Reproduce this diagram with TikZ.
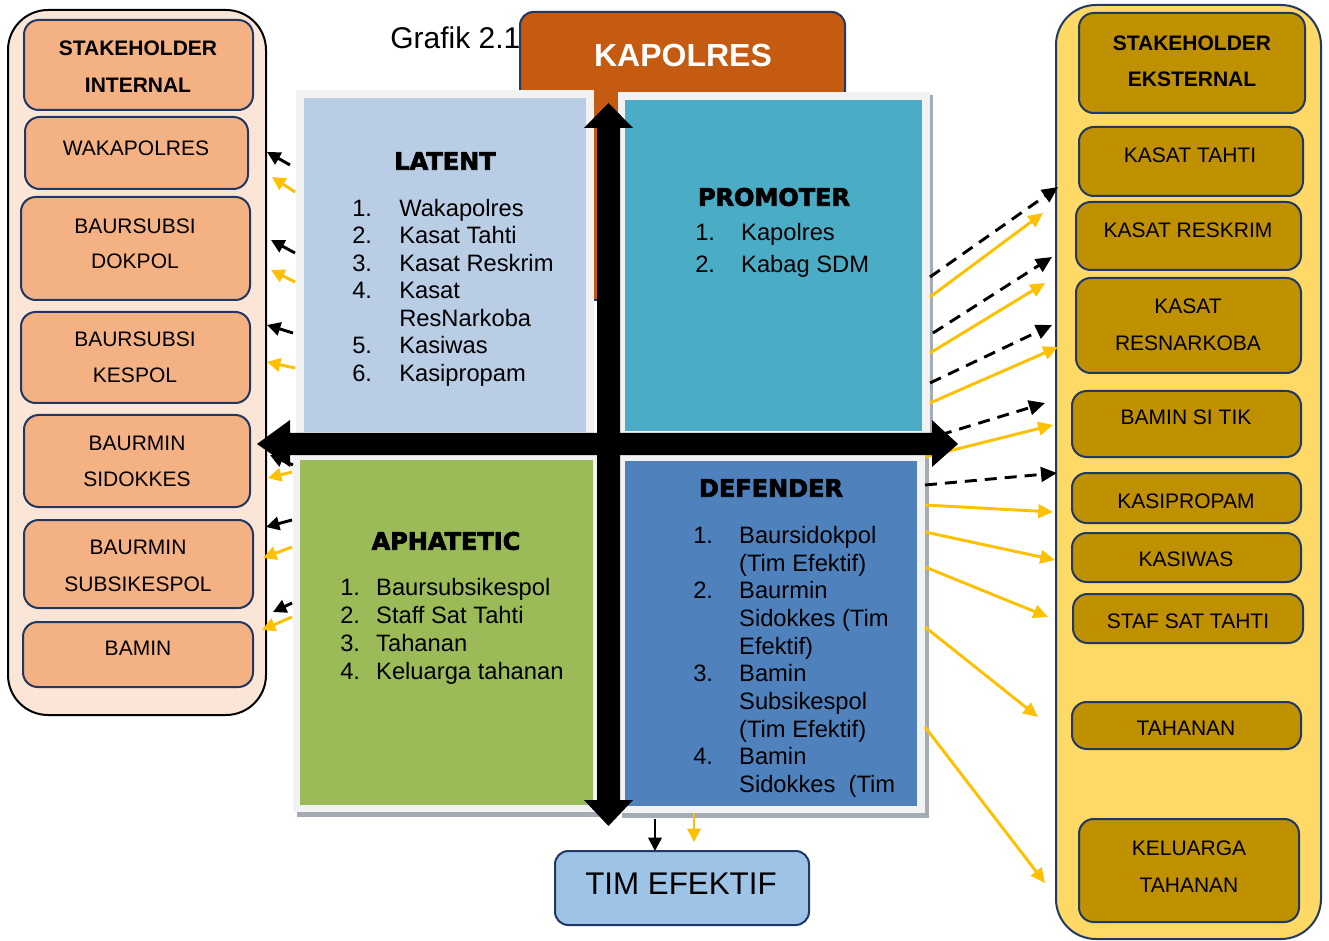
\documentclass[tikz,border=0pt]{standalone}
\usepackage{fontspec}
\setmainfont{Liberation Sans}
\newfontfamily\heavy{DejaVu Sans}[BoldFeatures={FakeBold=3}]
\usetikzlibrary{arrows.meta,fit}
\definecolor{navy}{HTML}{1F3864}
\definecolor{lpanel}{HTML}{FBE5D6}
\definecolor{lbfill}{HTML}{F4B183}
\definecolor{rpanel}{HTML}{FFD966}
\definecolor{rbfill}{HTML}{BF9000}
\definecolor{kapc}{HTML}{C55A11}
\definecolor{latc}{HTML}{B9CDE5}
\definecolor{proc}{HTML}{4BACC6}
\definecolor{aphc}{HTML}{9BBB59}
\definecolor{defc}{HTML}{4F81BD}
\definecolor{timc}{HTML}{9DC3E6}
\definecolor{ylw}{HTML}{FFC000}
\definecolor{frmc}{HTML}{F2F2F2}
\definecolor{shdc}{HTML}{A3ABB5}
\begin{document}
\begin{tikzpicture}[x=0.75pt,y=-0.75pt,
  bx/.style={inner sep=0pt, outer sep=0pt, draw=navy, line width=1.5pt, rounded corners=11pt},
  lbox/.style={bx, fill=lbfill},
  rbox/.style={bx, fill=rbfill},
  panel/.style={inner sep=0pt, outer sep=0pt, line width=1.5pt, rounded corners=30pt},
  lbl/.style={font=\fontsize{15.75}{18}\selectfont, inner sep=0pt},
  lblb/.style={font=\fontsize{15.75}{18}\selectfont\bfseries, inner sep=0pt},
  ttl/.style={font=\fontsize{18}{20}\selectfont\heavy\bfseries, inner sep=0pt},
  lst/.style={inner sep=0pt, anchor=base west},
  frm/.style={inner sep=0pt, outer sep=0pt, fill=frmc},
  quad/.style={inner sep=0pt, outer sep=0pt, fill=#1},
  ya/.style={draw=ylw, line width=2.2pt, -{Triangle[length=11pt,width=10pt]}},
  bda/.style={draw=black, line width=2.2pt, dash pattern=on 9pt off 6pt, -{Triangle[length=12pt,width=11pt]}},
  yl/.style={draw=ylw, line width=2.2pt, -{Triangle[length=10pt,width=10pt]}},
  bl/.style={draw=black, line width=2.2pt, -{Triangle[length=10pt,width=10pt]}},
]
\useasboundingbox (0,0) rectangle (1329,941);

% title
\node[anchor=west, inner sep=0pt, font=\fontsize{22.5}{24}\selectfont] (grafik) at (390,38) {Grafik 2.1};

% KAPOLRES
\node[bx, fill=kapc, rounded corners=10pt, fit={(520,12) (845,300)}] (kapbox) {};
\node[font=\fontsize{24}{26}\selectfont\bfseries, text=white, inner sep=0pt] (kap) at (683,55) {KAPOLRES};

% left panel
\node[panel, draw=black, fill=lpanel, fit={(8,10) (266,715)}] (lp) {};
\node[lbox, fit={(24,20) (253,110)}] (si) {};
\node[lblb] (si1) at (138,48) {STAKEHOLDER};
\node[lblb] (si2) at (138,85) {INTERNAL};
\node[lbox, fit={(25,117) (248,189)}] (waka) {};
\node[lbl] (waka1) at (136,148) {WAKAPOLRES};
\node[lbox, fit={(21,197) (250,300)}] (dok) {};
\node[lbl] (dok1) at (135,226) {BAURSUBSI};
\node[lbl] (dok2) at (135,261) {DOKPOL};
\node[lbox, fit={(21,312) (250,403)}] (kes) {};
\node[lbl] (kes1) at (135,339) {BAURSUBSI};
\node[lbl] (kes2) at (135,375) {KESPOL};
\node[lbox, fit={(24,415) (250,507)}] (sid) {};
\node[lbl] (sid1) at (137,443) {BAURMIN};
\node[lbl] (sid2) at (137,479) {SIDOKKES};
\node[lbox, fit={(24,520) (253,608)}] (sub) {};
\node[lbl] (sub1) at (138,547) {BAURMIN};
\node[lbl] (sub2) at (138,584) {SUBSIKESPOL};
\node[lbox, fit={(23,622) (253,687)}] (bam) {};
\node[lbl] (bam1) at (138,648) {BAMIN};

% right panel
\node[panel, draw=navy, fill=rpanel, fit={(1056,5) (1321,939)}] (rp) {};
\node[rbox, fit={(1079,13) (1305,113)}] (se) {};
\node[lblb] (se1) at (1192,43) {STAKEHOLDER};
\node[lblb] (se2) at (1192,79) {EKSTERNAL};
\node[rbox, fit={(1079,127) (1303,196)}] (kt) {};
\node[lbl] (kt1) at (1190,155) {KASAT TAHTI};
\node[rbox, fit={(1076,202) (1301,270)}] (kr) {};
\node[lbl] (kr1) at (1188,230) {KASAT RESKRIM};
\node[rbox, fit={(1076,278) (1301,373)}] (kn) {};
\node[lbl] (kn1) at (1188,306) {KASAT};
\node[lbl] (kn2) at (1188,343) {RESNARKOBA};
\node[rbox, fit={(1072,391) (1301,457)}] (bst) {};
\node[lbl] (bst1) at (1186,417) {BAMIN SI TIK};
\node[rbox, fit={(1072,473) (1301,523)}] (kp) {};
\node[lbl] (kp1) at (1186,501) {KASIPROPAM};
\node[rbox, fit={(1072,533) (1301,582)}] (kw) {};
\node[lbl] (kw1) at (1186,559) {KASIWAS};
\node[rbox, fit={(1073,594) (1303,643)}] (sst) {};
\node[lbl] (sst1) at (1188,621) {STAF SAT TAHTI};
\node[rbox, fit={(1072,702) (1301,749)}] (th) {};
\node[lbl] (th1) at (1186,728) {TAHANAN};
\node[rbox, fit={(1079,819) (1299,922)}] (kl) {};
\node[lbl] (kl1) at (1189,848) {KELUARGA};
\node[lbl] (kl2) at (1189,885) {TAHANAN};

% TIM EFEKTIF
\node[bx, fill=timc, rounded corners=10pt, fit={(555,851) (809,925)}] (tim) {};
\node[inner sep=0pt, font=\fontsize{23.5}{26}\selectfont] (tim1) at (681,884) {TIM EFEKTIF};

% quadrants
\node[frm, fit={(296,90) (594,440)}] (latF) {};
\node[quad=latc, fit={(304,98) (586,432)}] (lat) {};
\fill[shdc] (621,95) rectangle (933,442);
\node[frm, fit={(618,92) (930,439)}] (proF) {};
\node[quad=proc, fit={(625,100) (922,431)}] (pro) {};
\fill[shdc] (297,457) rectangle (604,817);
\node[frm, fit={(293,453) (600,812)}] (aphF) {};
\node[quad=aphc, fit={(300,460) (593,805)}] (aph) {};
\fill[shdc] (622,458) rectangle (929,818);
\node[frm, fit={(618,454) (925,813)}] (defF) {};
\node[quad=defc, fit={(625,461) (917,806)}] (def) {};

\node[ttl] (latT) at (445,161) {LATENT};
\node[ttl] (proT) at (774,197) {PROMOTER};
\node[ttl] (aphT) at (446,541) {APHATETIC};
\node[ttl] (defT) at (771,488) {DEFENDER};

\node[lst, font=\fontsize{17.8}{20.6}\selectfont] (latL) at (352,216.5) {\begin{tabular}[t]{@{}l@{\hspace{20.4pt}}l@{}}
1. & Wakapolres\\ 2. & Kasat Tahti\\ 3. & Kasat Reskrim\\ 4. & Kasat\\ & ResNarkoba\\ 5. & Kasiwas\\ 6. & Kasipropam\end{tabular}};
\node[lst, font=\fontsize{17.8}{24}\selectfont] (proL) at (695,240.5) {\begin{tabular}[t]{@{}l@{\hspace{19.6pt}}l@{}}
1. & Kapolres\\ 2. & Kabag SDM\end{tabular}};
\node[lst, font=\fontsize{17.8}{21}\selectfont] (aphL) at (340,595.5) {\begin{tabular}[t]{@{}l@{\hspace{12.1pt}}l@{}}
1. & Baursubsikespol\\ 2. & Staff Sat Tahti\\ 3. & Tahanan\\ 4. & Keluarga tahanan\end{tabular}};
\node[lst, font=\fontsize{17.8}{20.75}\selectfont] (defL) at (693,543.5) {\begin{tabular}[t]{@{}l@{\hspace{19.6pt}}l@{}}
1. & Baursidokpol\\ & (Tim Efektif)\\ 2. & Baurmin\\ & Sidokkes (Tim\\ & Efektif)\\ 3. & Bamin\\ & Subsikespol\\ & (Tim Efektif)\\ 4. & Bamin\\ & Sidokkes\ \ (Tim\end{tabular}};

% left small arrows
\draw[bl] (290,165) -- (267,152);
\draw[yl] (295,192) -- (272,177);
\draw[bl] (295,253) -- (271,240);
\draw[yl] (295,282) -- (271,270);
\draw[bl] (293,333) -- (267,325);
\draw[yl] (295,368) -- (267,362);
\draw[bl] (293,465) -- (270,455);
\draw[yl] (292,472) -- (268,478);
\draw[bl] (292,520) -- (266,527);
\draw[yl] (292,547) -- (263,558);
\draw[bl] (292,603) -- (273,612);
\draw[yl] (292,617) -- (262,630);

% right arrows
\draw[bda] (930,277) -- (1058,187);
\draw[bda] (933,333) -- (1052,257);
\draw[bda] (930,383) -- (1052,325);
\draw[bda] (940,435) -- (1045,403);
\draw[bda] (925,485) -- (1057,473);
\draw[ya] (930,297) -- (1043,213);
\draw[ya] (930,353) -- (1045,283);
\draw[ya] (930,403) -- (1058,347);
\draw[ya] (925,457) -- (1053,425);
\draw[ya] (925,505) -- (1053,512);
\draw[ya] (925,532) -- (1055,560);
\draw[ya] (925,567) -- (1048,617);
\draw[ya] (925,627) -- (1038,717);
\draw[ya] (925,727) -- (1045,883);

% arrows to TIM EFEKTIF
\draw[draw=black, line width=1.8pt, -{Triangle[length=10pt,width=10pt]}] (655,819) -- (tim.north -| 655,0);
\draw[draw=ylw, line width=1.8pt, -{Triangle[length=10pt,width=10pt]}] (694,813) -- (694,842);

% big cross
\fill[black] (597,128) -- (584,128) -- (608.5,103) -- (633,128) -- (620,128) -- (620,800) -- (633,800) -- (608.5,826) -- (584,800) -- (597,800) -- cycle;
\fill[black] (290,433) -- (290,420) -- (257,444) -- (290,467) -- (290,455) -- (932,455) -- (932,467) -- (958,444) -- (932,420) -- (932,433) -- cycle;
\end{tikzpicture}
\end{document}
